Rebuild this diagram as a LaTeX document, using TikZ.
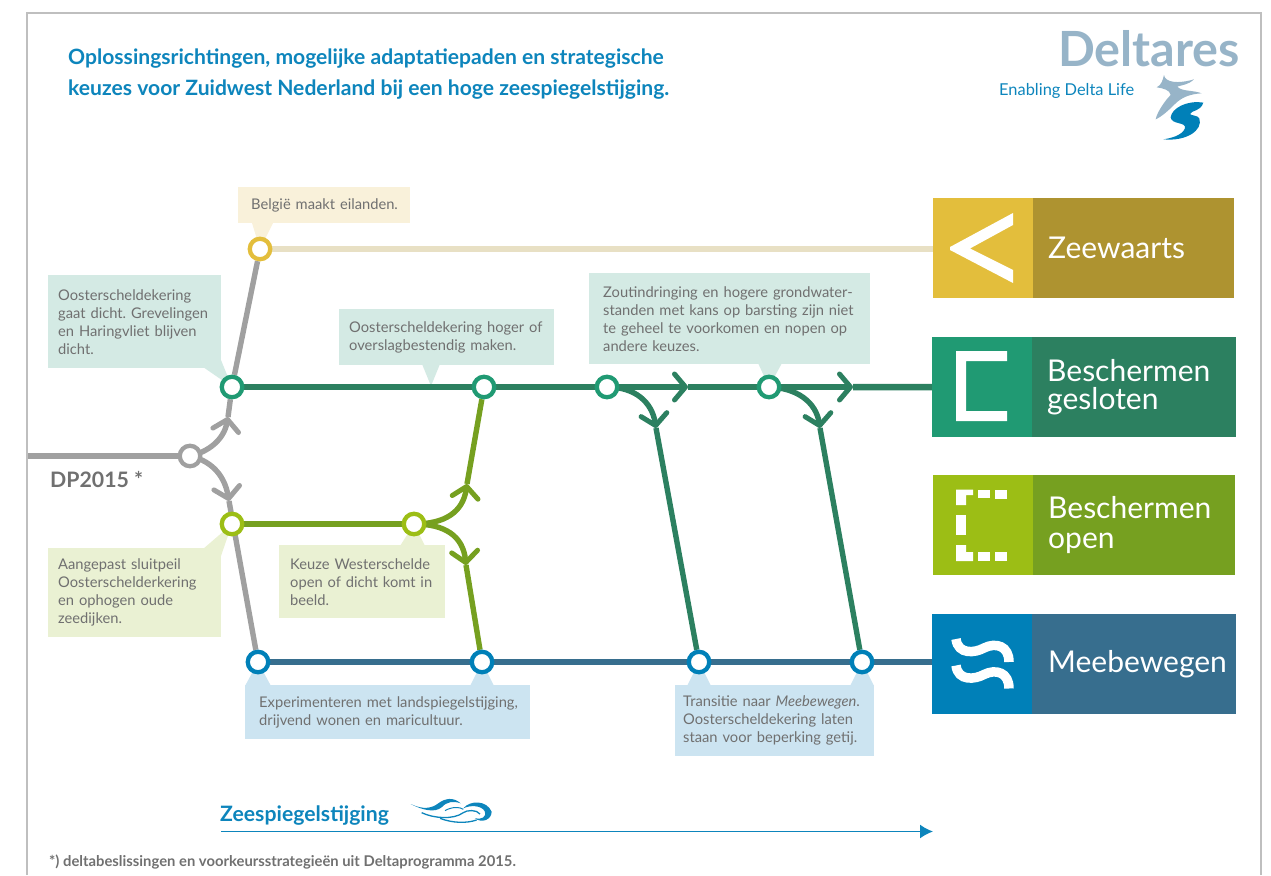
\documentclass[tikz,border=0pt]{standalone}
\usepackage{fontspec}
\setmainfont{Lato}
\usetikzlibrary{arrows.meta}
\definecolor{dgreen}{HTML}{2C8060}
\definecolor{bgreen}{HTML}{209A73}
\definecolor{lgray}{HTML}{A0A0A0}
\definecolor{zline}{HTML}{E8E0C4}
\definecolor{yel}{HTML}{E3BE3C}
\definecolor{dyel}{HTML}{AE9330}
\definecolor{olive}{HTML}{76A020}
\definecolor{lime}{HTML}{9CBE15}
\definecolor{bline}{HTML}{376E8E}
\definecolor{blu}{HTML}{0080B8}
\definecolor{txt}{HTML}{707070}
\definecolor{pyel}{HTML}{F9F1DA}
\definecolor{pgrn}{HTML}{D4EAE4}
\definecolor{plim}{HTML}{EAF1D3}
\definecolor{pblu}{HTML}{CCE4F1}
\definecolor{title}{HTML}{0D85BC}
\definecolor{logog}{HTML}{97B4C8}
\newcommand{\oneline}[1]{\mbox{#1}}
\frenchspacing
\pgfdeclarelayer{calloutlayer}
\pgfdeclarelayer{linelayer}
\pgfsetlayers{calloutlayer,linelayer,main}
\tikzset{
  halt/.style={circle,draw=#1,line width=4.3pt,fill=white,minimum size=20.5pt,inner sep=0pt},
  callout/.style n args={3}{anchor=north west,fill=#1,minimum height=#3,text width=#2-20pt,inner xsep=10pt,inner ysep=0pt,align=left,text=txt,font=\fontsize{14.7}{18}\selectfont},
  tipshape/.style={fill=#1,draw=none},
  legicon/.style={anchor=north west,fill=#1,minimum width=100pt,minimum height=100pt,inner sep=0pt},
  legtext/.style n args={2}{anchor=north west,fill=#1,minimum width=#2,minimum height=100pt,inner sep=0pt,inner xsep=15pt,text=white,align=left,text width=#2-30pt,font=\fontsize{30}{29.5}\selectfont},
  track/.style={draw=#1,line width=6.5pt},
  branch/.style={draw=#1,line width=5.4pt},
  barb/.style={-{Straight Barb[round,length=11pt,width=26pt,line width=5pt]}},
  plain/.style={anchor=base west,inner sep=0pt},
  icon/.style={fill=white,draw=none},
}
\begin{document}
\begin{tikzpicture}[x=1pt,y=-1pt]
\useasboundingbox (0,0) rectangle (1271,875);
\draw[draw=black!25,line width=1.3pt] (27,875) -- (27,13) -- (1261,13) -- (1261,875);

% title and logo
\node[plain,text=title,font=\fontsize{21.1}{31}\selectfont\bfseries,align=left,anchor=north west] (ttl) at (68,48.5)
  {Oplossingsrichtingen, mogelijke adaptatiepaden en strategische\\keuzes voor Zuidwest Nederland bij een hoge zeespiegelstijging.};
\node[plain,text=logog,font=\fontsize{48.5}{48}\selectfont\bfseries] (lg) at (1058,66.5) {Deltares};
\node[plain,text=title,font=\fontsize{16.4}{18}\selectfont] (slog) at (999,95) {Enabling Delta Life};
\begin{scope}[shift={(960,10)},x=0.3333pt,y=-0.3333pt]
\fill[logog] (612,195) .. controls (615,218) and (655,222) .. (702,208)
  .. controls (685,225) and (665,225) .. (652,230) .. controls (665,245) and (700,240) .. (725,250)
  .. controls (690,252) and (665,262) .. (645,282) .. controls (625,302) and (605,320) .. (587,328)
  .. controls (592,305) and (615,272) .. (632,255) .. controls (630,240) and (610,235) .. (590,232)
  .. controls (605,225) and (608,210) .. (612,195) -- cycle;
\fill[blu] (730,278) .. controls (680,270) and (635,295) .. (632,322)
  .. controls (635,345) and (680,335) .. (675,355) .. controls (665,378) and (630,385) .. (610,388)
  .. controls (680,395) and (730,360) .. (718,325) .. controls (712,315) and (695,318) .. (690,312)
  .. controls (695,300) and (722,305) .. (730,278) -- cycle;
\end{scope}

% stations
\node[halt=lgray] (dp) at (190,456) {};
\node[halt=yel] (z) at (260,249) {};
\node[halt=bgreen] (a) at (232,387) {};
\node[halt=lime] (b) at (232,524) {};
\node[halt=blu] (m) at (258,662) {};
\node[halt=lime] (w) at (414,524) {};
\node[halt=bgreen] (h) at (484,387) {};
\node[halt=bgreen] (g1) at (607,387) {};
\node[halt=bgreen] (g2) at (769,387) {};
\node[halt=blu] (m2) at (482,662) {};
\node[halt=blu] (m3) at (699,662) {};
\node[halt=blu] (m4) at (862,662) {};

% end boxes
\node[legicon=yel] (zi) at (933,198) {};
\node[legtext={dyel}{201pt}] (zt) at (1033,198) {\raisebox{-3pt}{Zeewaarts}};
\node[legicon=bgreen] (gi) at (932,337) {};
\node[legtext={dgreen}{204pt}] (gt) at (1032,337) {Beschermen\\\raisebox{1.5pt}{gesloten}};
\node[legicon=lime] (oi) at (933,475) {};
\node[legtext={olive}{202pt}] (ot) at (1033,475) {\raisebox{-2.5pt}{Beschermen}\\\raisebox{-3.5pt}{open}};
\node[legicon=blu] (mi) at (932,614) {};
\node[legtext={bline}{204pt}] (mt) at (1032,614) {\hspace*{1pt}\raisebox{-1pt}{\mbox{Meebewegen}}};

% icons
\fill[icon] (1013,213) -- (950,247) -- (950,250) -- (1013,283) -- (1013,270) -- (970,248.5) -- (1013,225) -- cycle;
\fill[icon] (956,351) -- (1007,351) -- (1007,361) -- (966,361) -- (966,411) -- (1007,411) -- (1007,421) -- (956,421) -- cycle;
\fill[icon] (956,489.5) -- (973,489.5) -- (973,495) -- (966,495) -- (966,505) -- (956,505) -- cycle;
\fill[icon] (978,489.5) rectangle (990,498);
\fill[icon] (995,489.5) rectangle (1007,499);
\fill[icon] (956,515) rectangle (966,535);
\fill[icon] (956,545) -- (966,545) -- (966,552) -- (973,552) -- (973,561) -- (956,561) -- cycle;
\fill[icon] (978,552) rectangle (990,561);
\fill[icon] (995,552) rectangle (1007,561);
\draw[white,line width=9.5pt] (956,639) .. controls (958,655) and (975,653) .. (984,648) .. controls (996,642) and (1009,646) .. (1009,662);
\draw[white,line width=9.5pt] (956,665.5) .. controls (958,681.5) and (975,679.5) .. (984,674.5) .. controls (996,668.5) and (1009,672.5) .. (1009,688.5);

% callouts
\begin{pgfonlayer}{calloutlayer}
\node[callout={pyel}{172pt}{36pt},inner xsep=12pt,text width=148pt] (c1) at (237.5,187) {\hspace*{1.5pt}\oneline{België maakt eilanden.}};
\fill[tipshape=pyel] (252,223) -- (z.center) -- (273,223) -- cycle;
\node[callout={pgrn}{173pt}{93pt}] (c2) at (48,275) {\oneline{Oosterscheldekering}\\\oneline{gaat dicht. Grevelingen}\\\oneline{en Haringvliet blijven}\\dicht.};
\fill[tipshape=pgrn] (203,367) -- (a.center) -- (221,360) -- cycle;
\node[callout={pgrn}{215pt}{56pt}] (c3) at (339,309) {\oneline{Oosterscheldekering hoger of}\\\oneline{overslagbestendig maken.}};
\coordinate (c3t) at (431,386);
\fill[tipshape=pgrn] (422,364) -- (c3t) -- (440,364) -- cycle;
\node[callout={pgrn}{281pt}{91pt},inner xsep=14pt,text width=253pt] (c4) at (589,273) {\oneline{Zoutindringing en hogere grondwater-}\\\oneline{standen met kans op barsting zijn niet}\\\oneline{te geheel te voorkomen en nopen op}\\andere keuzes.};
\fill[tipshape=pgrn] (758,363) -- (g2.center) -- (782,363) -- cycle;
\node[callout={plim}{173pt}{89pt}] (c5) at (48,548) {\oneline{Aangepast sluitpeil}\\\oneline{Oosterschelderkering}\\\oneline{en ophogen oude}\\zeedijken.};
\fill[tipshape=plim] (203,549) -- (b.center) -- (221,556) -- cycle;
\node[callout={plim}{166pt}{73pt},inner xsep=11pt,text width=144pt] (c6) at (279,545) {\oneline{Keuze Westerschelde}\\\oneline{open of dicht komt in}\\beeld.};
\fill[tipshape=plim] (400,546) -- (w.center) -- (425,546) -- cycle;
\node[callout={pblu}{285pt}{54pt},inner xsep=12pt,text width=261pt] (c7) at (245,685) {\hspace*{2pt}\oneline{Experimenteren met landspiegelstijging,}\\\hspace*{2pt}\oneline{drijvend wonen en maricultuur.}};
\fill[tipshape=pblu] (245,686) -- (m.center) -- (271,686) -- cycle;
\fill[tipshape=pblu] (470,686) -- (m2.center) -- (494,686) -- cycle;
\node[callout={pblu}{199pt}{71pt},inner xsep=8pt,text width=183pt] (c8) at (675,685) {\oneline{Transitie naar \textit{Meebewegen}.}\\\oneline{Oosterscheldekering laten}\\\oneline{staan voor beperking getij.}};
\fill[tipshape=pblu] (687,686) -- (m3.center) -- (711,686) -- cycle;
\fill[tipshape=pblu] (850,686) -- (m4.center) -- (874,686) -- cycle;
\end{pgfonlayer}

% connectors
\begin{pgfonlayer}{linelayer}
\coordinate (start) at (27,456);
\coordinate (upt) at (228,417);
\coordinate (dnt) at (229,501);
\draw[track=lgray] (start) -- (dp);
\draw[branch=lgray] (z) -- (a);
\draw[branch=lgray] (upt) -- (a);
\draw[branch=lgray] (dnt) -- (m);
\draw[branch=lgray,barb] (dp.center) .. controls (208,452) and (224,440) .. (upt);
\draw[branch=lgray,barb] (dp.center) .. controls (208,460) and (224,472) .. (dnt);
\draw[track=zline] (z) -- (z -| zi.west);
\coordinate (t1) at (688,387);
\coordinate (t2) at (853,387);
\draw[track=dgreen] (a) -- (h);
\draw[track=dgreen] (h) -- (g1);
\draw[track=dgreen,barb] (g1) -- (t1);
\draw[track=dgreen] (t1) -- (g2);
\draw[track=dgreen,barb] (g2) -- (t2);
\draw[track=dgreen] (t2) -- (gi.west);
\draw[track=olive] (b) -- (w);
\coordinate (wu) at (467,484);
\coordinate (wd) at (466,565);
\draw[branch=olive,barb] (w.center) .. controls (445,524) and (463,512) .. (wu);
\draw[branch=olive,barb] (w.center) .. controls (445,524) and (463,536) .. (wd);
\draw[branch=olive] (wu) -- (h);
\draw[branch=olive] (wd) -- (m2);
\coordinate (gd1) at (656,428);
\coordinate (gd2) at (820,428);
\draw[branch=dgreen,barb] (g1.center) .. controls (635,387) and (652,402) .. (gd1);
\draw[branch=dgreen,barb] (g2.center) .. controls (797,388) and (816,402) .. (gd2);
\draw[branch=dgreen] (gd1) -- (m3);
\draw[branch=dgreen] (gd2) -- (m4);
\draw[track=bline] (m) -- (m2);
\draw[track=bline] (m2) -- (m3);
\draw[track=bline] (m3) -- (m4);
\draw[track=bline] (m4) -- (m4 -| mi.west);
\end{pgfonlayer}

% bottom
\node[plain,text=txt,font=\fontsize{21.3}{24}\selectfont\bfseries] (dpl) at (50,487) {DP2015 *};
\node[plain,text=title,font=\fontsize{21.2}{24}\selectfont\bfseries] (sea) at (220,821) {Zeespiegelstijging};
\coordinate (as) at (221,831.5);
\coordinate (ae) at (933,831.5);
\draw[draw=title,line width=1.6pt,-{Latex[length=13pt,width=14pt]}] (as) -- (ae);
\node[plain,text=txt,font=\fontsize{14.8}{16}\selectfont\bfseries] (foot) at (49,866) {*) deltabeslissingen en voorkeursstrategieën uit Deltaprogramma 2015.};
\begin{scope}[shift={(200,770)},x=0.3333pt,y=-0.3333pt]
\fill[title] (632,102) .. controls (670,120) and (695,115) .. (715,100) .. controls (735,85) and (760,80) .. (782,100) .. controls (760,92) and (740,95) .. (725,112) .. controls (705,128) and (670,122) .. (632,102) -- cycle;
\fill[title] (790,115) .. controls (810,90) and (860,90) .. (875,125) .. controls (875,150) and (845,160) .. (825,145) .. controls (845,150) and (860,140) .. (855,125) .. controls (845,105) and (810,105) .. (790,115) -- cycle;
\draw[title,line width=1.3pt] (665,128) .. controls (700,145) and (760,150) .. (790,128) .. controls (800,120) and (830,118) .. (840,132);
\draw[title,line width=1.3pt] (720,145) .. controls (760,160) and (800,160) .. (830,150);
\draw[title,line width=1pt] (735,122) .. controls (755,110) and (780,110) .. (790,118);
\end{scope}
\end{tikzpicture}
\end{document}
